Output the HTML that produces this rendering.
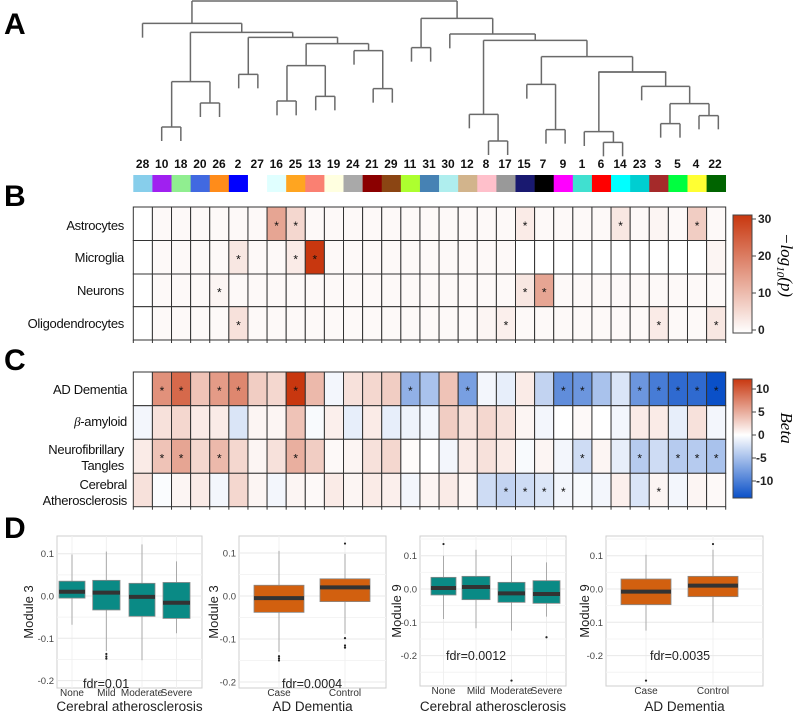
<!DOCTYPE html>
<html><head><meta charset="utf-8"><style>
html,body{margin:0;padding:0;background:#fff;width:800px;height:715px;overflow:hidden}
svg{display:block}
text{font-family:"Liberation Sans",sans-serif}
</style></head><body>
<svg id="s" width="800" height="715" viewBox="0 0 800 715" xmlns="http://www.w3.org/2000/svg">
<defs>
<linearGradient id="gb" x1="0" y1="1" x2="0" y2="0"><stop offset="0" stop-color="#fff"/><stop offset="1" stop-color="#c8370f"/></linearGradient>
<linearGradient id="gc" x1="0" y1="1" x2="0" y2="0"><stop offset="0" stop-color="#0a50c8"/><stop offset="0.53" stop-color="#fff"/><stop offset="1" stop-color="#c8370f"/></linearGradient>
</defs>
<g font-weight="900" font-size="30" fill="#000">
<text x="4" y="34">A</text><text x="4" y="206">B</text><text x="4" y="370">C</text><text x="4" y="538">D</text>
</g>
<g id="dend" stroke="#6a6a6a" stroke-width="1.5" fill="none"></g>
<g id="lab" font-size="12" font-weight="bold" text-anchor="middle" fill="#111">
<text x="142.6" y="168">28</text><text x="161.7" y="168">10</text><text x="180.8" y="168">18</text><text x="199.9" y="168">20</text><text x="219" y="168">26</text><text x="238" y="168">2</text><text x="257.2" y="168">27</text><text x="276.3" y="168">16</text><text x="295.4" y="168">25</text><text x="314.5" y="168">13</text><text x="333.6" y="168">19</text><text x="352.7" y="168">24</text><text x="371.8" y="168">21</text><text x="390.9" y="168">29</text><text x="410" y="168">11</text><text x="429" y="168">31</text><text x="448" y="168">30</text><text x="467" y="168">12</text><text x="486" y="168">8</text><text x="505" y="168">17</text><text x="524" y="168">15</text><text x="543" y="168">7</text><text x="563" y="168">9</text><text x="582" y="168">1</text><text x="601" y="168">6</text><text x="620" y="168">14</text><text x="639.5" y="168">23</text><text x="658" y="168">3</text><text x="677.5" y="168">5</text><text x="696" y="168">4</text><text x="715" y="168">22</text>
</g>
<g id="bar"></g>
<g id="hb"></g>
<g id="hc"></g>
<g font-size="13" text-anchor="end" fill="#111" style="letter-spacing:-0.3px">
<text x="124" y="230">Astrocytes</text><text x="124" y="262">Microglia</text><text x="124" y="295">Neurons</text><text x="124" y="328">Oligodendrocytes</text>
<text x="127" y="394">AD Dementia</text><text x="127" y="426"><tspan style="font-style:italic;font-family:'Liberation Serif',serif">β</tspan>-amyloid</text>
<text x="124" y="454">Neurofibrillary</text><text x="124" y="470">Tangles</text>
<text x="127" y="489">Cerebral</text><text x="127" y="505">Atherosclerosis</text>
</g>
<rect x="733" y="215" width="19" height="118" fill="url(#gb)" stroke="#444" stroke-width="1"/>
<rect x="733" y="379" width="19" height="119" fill="url(#gc)" stroke="#444" stroke-width="1"/>
<g stroke="#444" stroke-width="1">
<line x1="752" y1="219" x2="756" y2="219"/><line x1="752" y1="256" x2="756" y2="256"/><line x1="752" y1="293" x2="756" y2="293"/><line x1="752" y1="330" x2="756" y2="330"/>
<line x1="752" y1="389" x2="756" y2="389"/><line x1="752" y1="412" x2="756" y2="412"/><line x1="752" y1="435" x2="756" y2="435"/><line x1="752" y1="458" x2="756" y2="458"/><line x1="752" y1="481" x2="756" y2="481"/>
</g>
<g font-size="12" font-weight="bold" fill="#222">
<text x="758" y="223">30</text><text x="758" y="260">20</text><text x="758" y="297">10</text><text x="758" y="334">0</text>
<text x="756" y="393">10</text><text x="758" y="416">5</text><text x="758" y="439">0</text><text x="756" y="462">-5</text><text x="756" y="485">-10</text>
</g>
<text transform="translate(781,265) rotate(90)" style="font-family:'Liberation Serif',serif;font-style:italic" font-size="17" text-anchor="middle">−log<tspan font-size="11" dy="4">10</tspan><tspan dy="-4">(p)</tspan></text>
<text transform="translate(781,428) rotate(90)" style="font-family:'Liberation Serif',serif;font-style:italic" font-size="17" text-anchor="middle">Beta</text>
<g id="box"></g>
</svg>
<script>
var NS="http://www.w3.org/2000/svg";
function el(p,t,a,txt){var e=document.createElementNS(NS,t);for(var k in a)e.setAttribute(k,a[k]);if(txt!=null)e.textContent=txt;p.appendChild(e);return e;}
var d=document.getElementById('dend');
var A=[[3,240,932],[70,111,370],[97,236,503],[245,187,287],[381,161,211],[309,262,312],[112,387,620],[223,362,412],[131,538,701],[197,488,588],[303,462,512],[289,563,613],[152,663,738],[266,713,763],[55,838,1025],[143,813,863],[102,913,1136],[121,1001,1271],[343,964,1039],[423,1014,1064],[170,1152,1390],[253,1114,1189],[389,1164,1214],[216,1302,1478],[395,1264,1340],[427,1314,1364]];
var V=[[240,3,70],[932,3,55],[111,70,113],[370,70,97],[236,97,245],[503,97,112],[187,245,381],[287,245,309],[161,381,423],[211,381,423],[262,309,351],[312,309,351],[387,112,223],[620,112,131],[362,223,265],[412,223,265],[538,131,197],[701,131,152],[488,197,303],[588,197,289],[462,303,346],[512,303,346],[563,289,331],[613,289,331],[663,152,194],[738,152,266],[713,266,308],[763,266,308],[838,55,143],[1025,55,102],[813,143,185],[863,143,185],[913,102,145],[1136,102,121],[1001,121,343],[1271,121,170],[964,343,385],[1039,343,423],[1014,423,465],[1064,423,465],[1152,170,253],[1390,170,216],[1114,253,296],[1189,253,389],[1164,389,431],[1214,389,431],[1302,216,395],[1264,395,438],[1340,395,427],[1314,427,469],[1364,427,469]];
function X1(x){return 100+x/2.61}
A.forEach(function(a){el(d,'line',{x1:X1(a[1]),x2:X1(a[2]),y1:a[0]/3,y2:a[0]/3});});
V.forEach(function(v){el(d,'line',{x1:X1(v[0]),x2:X1(v[0]),y1:v[1]/3,y2:v[2]/3});});
function X6(x){return 560+x/3}
[[216,115,317],[259,245,389],[311,330,447],[371,302,360],[347,417,475]].forEach(function(a){el(d,'line',{x1:X6(a[1]),x2:X6(a[2]),y1:a[0]/3,y2:a[0]/3});});
[[317,216,259],[245,259,301],[389,259,311],[330,311,371],[447,311,347],[302,371,413],[360,371,413],[417,347,388],[475,347,388]].forEach(function(v){el(d,'line',{x1:X6(v[0]),x2:X6(v[0]),y1:v[1]/3,y2:v[2]/3});});
var cols=["#87CEEB","#A020F0","#90EE90","#4169E1","#FF8C1A","#0000FF","#FFFFFF","#E0FFFF","#FFA520","#FA8072","#FFFFE0","#A9A9A9","#8B0000","#8B4513","#ADFF2F","#4682B4","#AFEEEE","#D2B48C","#FFC0CB","#999999","#191970","#000000","#FF00FF","#40E0D0","#FF0000","#00FFFF","#00CED1","#A52A2A","#00FF40","#FFFF33","#006400"];
var b=document.getElementById('bar');var x0=133.3,w=19.11;
cols.forEach(function(c,i){el(b,'rect',{x:x0+i*w,y:175,width:w+0.3,height:17,fill:c});});
function mix(a,b,t){return 'rgb('+[0,1,2].map(function(i){return Math.round(a[i]+(b[i]-a[i])*t)}).join(',')+')';}
var R=[200,55,15],W=[255,255,255],B=[10,80,200];
function cB(v){return mix(W,R,Math.min(1,v));}
function cC(v){return v>=0?mix(W,R,Math.min(1,v)):mix(W,B,Math.min(1,-v));}
function heat(g,top,rows,vals,stars,cf){
  var gg=document.getElementById(g);
  for(var r=0;r<vals.length;r++){for(var c=0;c<31;c++){var y=rows[r],h=rows[r+1]-rows[r];
    el(gg,'rect',{x:x0+c*w,y:y,width:w,height:h,fill:cf(vals[r][c]),stroke:'#333','stroke-width':1});
    if(stars[r].indexOf(c)>=0)el(gg,'text',{x:x0+c*w+w/2,y:y+h/2+6,'text-anchor':'middle','font-size':12,fill:'#111'},'*');}}
  for(var c=0;c<=31;c++)el(gg,'line',{x1:x0+c*w,x2:x0+c*w,y1:rows[rows.length-1],y2:rows[rows.length-1]+3,stroke:'#333'});
}
var z=0.03;
var hb=[
[0,z,z,z,z,z,z,.45,.2,z,z,z,z,z,z,z,z,z,z,z,.1,z,z,z,z,.12,z,.05,z,.25,z],
[0,z,z,z,z,.12,z,z,.1,1,z,z,z,z,z,z,z,z,z,z,0,0,0,0,0,0,0,0,0,0,.05],
[0,z,z,z,.05,z,z,z,z,z,z,z,z,z,z,z,z,z,z,z,.12,.45,z,z,z,z,z,z,z,z,z],
[0,z,z,z,z,.15,z,z,z,z,z,z,z,z,z,z,z,z,.05,.08,z,z,z,z,z,z,z,.1,z,z,.12]];
heat('hb',207,[207,240.5,274,306.7,340],hb,[[7,8,20,25,29],[5,8,9],[4,20,21],[5,19,27,30]],cB);
var hc=[
[0,.55,.75,.3,.5,.6,.25,.2,1,.35,-.05,.15,.2,.25,-.45,-.35,.3,-.55,-.05,-.1,.1,-.25,-.65,-.6,-.35,-.15,-.6,-.75,-.85,-.85,-1],
[-.05,.15,.2,.1,.1,-.15,.05,.05,.3,-.03,.08,-.1,.1,-.1,-.07,-.05,.25,.15,.2,.15,.05,-.05,0,.03,0,-.05,.1,.1,-.1,.15,-.05],
[.1,.3,.45,.2,.35,.2,.05,.15,.4,.25,.03,.05,.15,.2,.02,0,-.05,.1,.15,.1,-.03,.05,-.05,-.2,.05,-.1,-.3,-.2,-.3,-.3,-.35],
[.15,-.02,.05,.1,-.05,.2,.05,-.05,.05,.03,.1,.05,.1,.08,-.05,.05,.1,.05,-.2,-.25,-.2,-.15,-.05,-.03,-.05,.08,-.15,.05,-.05,.05,.03]];
heat('hc',372,[372,405.7,439.3,473.3,506.7],hc,[[1,2,4,5,8,14,17,22,23,26,27,28,29,30],[],[1,2,4,8,23,26,28,29,30],[19,20,21,22,27]],cC);
var bx=document.getElementById('box');
function panel(L,Rt,T,Bt,y0,ppu,ticks,ylab,ylx,boxes,cats,fill,fdr,fx,fy,xlab){
  function Y(v){return y0-v*ppu*100}
  el(bx,'rect',{x:L,y:T,width:Rt-L,height:Bt-T,fill:'#fff',stroke:'#cfcfcf','stroke-width':1});
  [0.15,0.05,-0.05,-0.15,-0.25].forEach(function(t){var y=Y(t);if(y>T&&y<Bt)el(bx,'line',{x1:L,x2:Rt,y1:y,y2:y,stroke:'#f4f4f4'});});
  boxes.forEach(function(q){var xm=(q[0]+q[1])/2;el(bx,'line',{x1:xm,x2:xm,y1:T,y2:Bt,stroke:'#f0f0f0'});});
  ticks.forEach(function(t){var y=Y(t);el(bx,'line',{x1:L,x2:Rt,y1:y,y2:y,stroke:'#e8e8e8'});
    el(bx,'text',{x:L-3,y:y+3.5,'text-anchor':'end','font-size':9.5,fill:'#444'},t===0?'0.0':(''+t));});
  boxes.forEach(function(q,i){var xa=q[0],xb=q[1],xm=(xa+xb)/2;
    el(bx,'line',{x1:xm,x2:xm,y1:Y(q[5]),y2:Y(q[6]),stroke:'#aaa','stroke-width':1});
    el(bx,'rect',{x:xa,y:Y(q[2]),width:xb-xa,height:Y(q[3])-Y(q[2]),fill:fill,stroke:'#888','stroke-width':0.8});
    el(bx,'line',{x1:xa,x2:xb,y1:Y(q[4]),y2:Y(q[4]),stroke:'#333','stroke-width':4});
    (q[7]||[]).forEach(function(o){el(bx,'circle',{cx:xm,cy:Y(o),r:1.1,fill:'#222'});});
    el(bx,'text',{x:xm,y:Bt+8,'text-anchor':'middle','font-size':10,fill:'#333'},cats[i]);});
  el(bx,'text',{transform:'translate('+ylx+','+((T+Bt)/2)+') rotate(-90)','text-anchor':'middle','font-size':13,fill:'#222'},ylab);
  el(bx,'text',{x:fx,y:fy,'font-size':12.5,fill:'#222'},fdr);
  el(bx,'text',{x:(L+Rt)/2,y:711,'text-anchor':'middle','font-size':13.5,fill:'#222'},xlab);
}
var teal='#0a8a85',org='#d2600f';
panel(57,202,536,688,596,4.23,[0.1,0,-0.1,-0.2],'Module 3',33,
 [[59,85,.035,-.005,.01,.098,-.068],[92.7,120,.037,-.033,.008,.105,-.13,[-.137,-.143,-.148]],[129,155,.03,-.048,-.002,.122,-.152],[163,190,.032,-.053,-.016,.082,-.088]],
 ['None','Mild','Moderate','Severe'],teal,'fdr=0.01',83,688,'Cerebral atherosclerosis');
panel(239,386,536,688,596,4.3,[0.1,0,-0.1,-0.2],'Module 3',218,
 [[254,304,.025,-.038,-.005,.105,-.13,[-.14,-.145,-.15]],[320,370,.04,-.013,.02,.098,-.088,[.122,-.098,-.115,-.12]]],
 ['Case','Control'],org,'fdr=0.0004',282,688,'AD Dementia');
panel(420,566,536,686,589,3.33,[0.1,0,-0.1,-0.2],'Module 9',401,
 [[431,456,.035,-.018,.003,.1,-.09,[.135]],[462,490,.038,-.032,.006,.118,-.118],[498,525,.02,-.04,-.013,.1,-.125,[-.275]],[533,560,.025,-.043,-.015,.08,-.083,[-.145]]],
 ['None','Mild','Moderate','Severe'],teal,'fdr=0.0012',446,660,'Cerebral atherosclerosis');
panel(606,763,536,686,589,3.33,[0.1,0,-0.1,-0.2],'Module 9',589,
 [[621,671,.03,-.047,-.008,.103,-.125,[-.275]],[688,738,.038,-.023,.01,.118,-.1,[.135]]],
 ['Case','Control'],org,'fdr=0.0035',650,660,'AD Dementia');
</script>
</body></html>
